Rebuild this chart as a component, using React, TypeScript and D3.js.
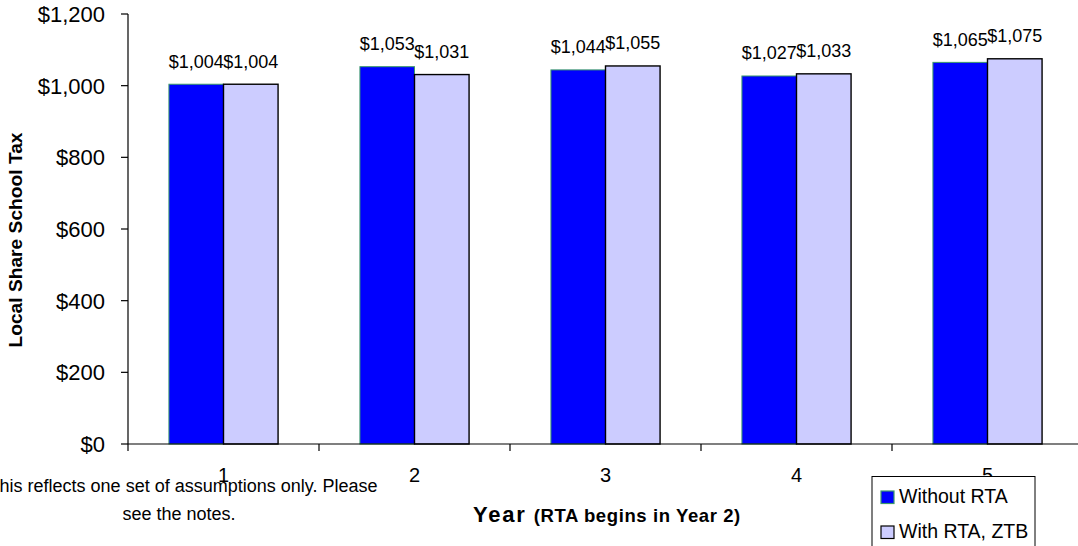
import React from "react";
import * as d3 from "d3";

// Local share of school tax, by year, with and without the RTA
const years = ["1", "2", "3", "4", "5"];
const seriesNames = ["Without RTA", "With RTA, ZTB"];
const withoutRTA = [1004, 1053, 1044, 1027, 1065];
const withRTA = [1004, 1031, 1055, 1033, 1075];
const yTicks = [0, 200, 400, 600, 800, 1000, 1200];

const W = 1078;
const H = 546;
const FONT = "'Liberation Sans', Arial, Helvetica, sans-serif";

const fills = ["#0000FF", "#CCCCFF"];
const strokes = ["#3C9A6A", "#000000"];

export default function App() {
  const left = 128;
  const top = 14;
  const bottom = 444;
  const step = 191;

  const x = d3
    .scaleBand<string>()
    .domain(years)
    .range([left, left + step * years.length])
    .padding(0);
  const xInner = d3
    .scaleBand<string>()
    .domain(seriesNames)
    .range([0, x.bandwidth()])
    .paddingInner(0)
    .paddingOuter(0.75);
  const y = d3.scaleLinear().domain([0, 1200]).range([bottom, top]);

  const fmt = (v: number) => "$" + d3.format(",")(v);
  const series = [withoutRTA, withRTA];

  const boundaries = d3.range(years.length + 1).map((i) => left + step * i);

  return (
    <svg
      width={W}
      height={H}
      style={{ position: "absolute", left: 0, top: 0, background: "#fff" }}
      fontFamily={FONT}
    >
      {/* bars */}
      {years.map((yr, i) => (
        <g key={yr} transform={`translate(${x(yr)},0)`}>
          {seriesNames.map((s, k) => {
            const v = series[k][i];
            const bx = xInner(s) as number;
            return (
              <g key={s}>
                <rect
                  x={bx}
                  y={y(v)}
                  width={xInner.bandwidth()}
                  height={bottom - y(v)}
                  fill={fills[k]}
                  stroke={strokes[k]}
                  strokeWidth={k === 0 ? 1 : 1.4}
                />
                <text
                  x={bx + xInner.bandwidth() / 2}
                  y={y(v) - 16.5}
                  textAnchor="middle"
                  fontSize={18}
                  fill="#000"
                >
                  {fmt(v)}
                </text>
              </g>
            );
          })}
        </g>
      ))}

      {/* y axis */}
      <line x1={left} x2={left} y1={top} y2={bottom} stroke="#000" strokeWidth={1.2} />
      {yTicks.map((t) => (
        <g key={t}>
          <line x1={left - 7} x2={left} y1={y(t)} y2={y(t)} stroke="#000" strokeWidth={1.2} />
          <text
            x={left - 23}
            y={y(t)}
            dy="0.36em"
            textAnchor="end"
            fontSize={22}
            fill="#000"
          >
            {fmt(t)}
          </text>
        </g>
      ))}
      <text
        transform={`translate(22,240) rotate(-90)`}
        textAnchor="middle"
        fontSize={19.2}
        fontWeight="bold"
        fill="#000"
      >
        Local Share School Tax
      </text>

      {/* x axis */}
      <line x1={left} x2={W} y1={bottom} y2={bottom} stroke="#000" strokeWidth={1.2} />
      {boundaries.map((bx, i) => (
        <line key={i} x1={bx} x2={bx} y1={bottom} y2={bottom + 7} stroke="#000" strokeWidth={1.2} />
      ))}
      {years.map((yr) => (
        <text
          key={yr}
          x={(x(yr) as number) + x.bandwidth() / 2}
          y={482}
          textAnchor="middle"
          fontSize={20}
          fill="#000"
        >
          {yr}
        </text>
      ))}
      <text x={473} y={522} fontWeight="bold" fill="#000">
        <tspan fontSize={22} letterSpacing={1.8}>Year</tspan>
        <tspan fontSize={18.5} dx={7} letterSpacing={0.6}>(RTA begins  in Year 2)</tspan>
      </text>

      {/* note */}
      <text textAnchor="middle" fontSize={18} fill="#000">
        <tspan x={183} y={492}>This reflects one set of assumptions only. Please</tspan>
        <tspan x={179} y={520}>see the notes.</tspan>
      </text>

      {/* legend */}
      <rect x={872} y={476.5} width={163} height={90} fill="#fff" stroke="#000" strokeWidth={1} />
      {seriesNames.map((s, k) => (
        <g key={s} transform={`translate(881,${491 + k * 35})`}>
          <rect x={0} y={0} width={13} height={12.5} fill={fills[k]} stroke={strokes[k]} strokeWidth={1.2} />
          <text x={18} y={12} fontSize={19.5} fill="#000">
            {s}
          </text>
        </g>
      ))}
    </svg>
  );
}
